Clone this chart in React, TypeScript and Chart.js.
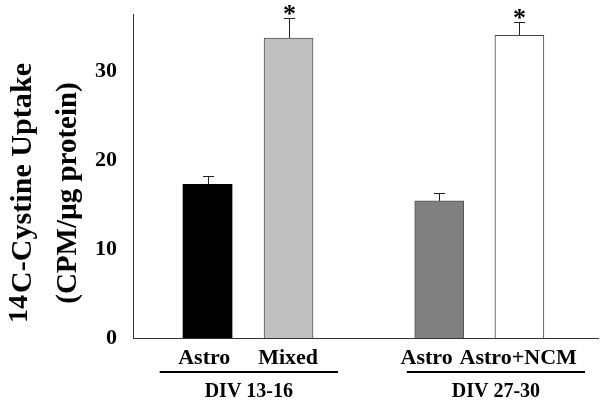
import React, { useEffect, useRef } from 'react';
import { Chart, registerables } from 'chart.js';
Chart.register(...registerables);

const categories = ['Astro', 'Mixed', 'Astro', 'Astro+NCM'];
const groups = ['DIV 13-16', 'DIV 27-30'];
const uptake = [17.3, 33.8, 15.45, 34.1];
const sem = [1.0, 2.3, 0.9, 1.5];
const significant = [false, true, false, true];
const yTicks = [0, 10, 20, 30];
const barColors = ['#000000', '#c0c0c0', '#808080', '#ffffff'];

// layout (bar slot centers and label centers in x-axis units, group underline spans)
const slotPos = [0.92, 1.92, 3.78, 4.77];
const labelPos = [0.88, 1.915, 3.625, 4.755];
const groupSpans = [[0.33, 2.53], [3.38, 5.58]];
const FONT = '"Liberation Serif", "Times New Roman", serif';

const overlay = {
  id: 'overlay',
  afterDatasetsDraw(chart: any) {
    const ctx = chart.ctx;
    const meta = chart.getDatasetMeta(0);
    const ys = chart.scales.y;
    ctx.save();
    meta.data.forEach((bar: any, i: number) => {
      const x = Math.round(bar.x);
      const yTop = ys.getPixelForValue(uptake[i]);
      const yErr = Math.round(ys.getPixelForValue(uptake[i] + sem[i]));
      ctx.strokeStyle = '#222';
      ctx.lineWidth = 1;
      ctx.beginPath();
      ctx.moveTo(x + 0.5, yTop);
      ctx.lineTo(x + 0.5, yErr);
      ctx.moveTo(x - 5, yErr + 0.5);
      ctx.lineTo(x + 6, yErr + 0.5);
      ctx.stroke();
      if (significant[i]) {
        ctx.fillStyle = '#000';
        ctx.font = `bold 26px ${FONT}`;
        ctx.textAlign = 'center';
        ctx.textBaseline = 'middle';
        ctx.fillText('*', x + 0.5, yErr - 3);
      }
    });
    ctx.restore();
  },
  afterDraw(chart: any) {
    const ctx = chart.ctx;
    const xs = chart.scales.x;
    ctx.save();
    // group underlines and labels
    groupSpans.forEach((span, g) => {
      const x0 = xs.getPixelForValue(span[0]);
      const x1 = xs.getPixelForValue(span[1]);
      ctx.strokeStyle = '#000';
      ctx.lineWidth = 2;
      ctx.beginPath();
      ctx.moveTo(x0, 372);
      ctx.lineTo(x1, 372);
      ctx.stroke();
      ctx.fillStyle = '#000';
      ctx.font = `bold 20px ${FONT}`;
      ctx.textAlign = 'center';
      ctx.textBaseline = 'middle';
      ctx.fillText(groups[g], (x0 + x1) / 2, 392);
    });
    // y title
    ctx.save();
    ctx.translate(0, 193);
    ctx.rotate(-Math.PI / 2);
    ctx.fillStyle = '#000';
    ctx.textBaseline = 'alphabetic';
    ctx.textAlign = 'left';
    const supFont = `bold 28px ${FONT}`;
    const mainFont = `bold 30px ${FONT}`;
    const mainText = 'C-Cystine Uptake';
    ctx.font = supFont;
    const wSup = ctx.measureText('14').width + 2;
    ctx.font = mainFont;
    const wRaw = ctx.measureText(mainText).width;
    const spacing = Math.max(0, Math.min(2, (230 - wRaw) / mainText.length));
    (ctx as any).letterSpacing = `${spacing}px`;
    const wMain = ctx.measureText(mainText).width;
    const total = wSup + wMain;
    (ctx as any).letterSpacing = '0px';
    ctx.font = supFont;
    ctx.fillText('14', -total / 2, 27);
    ctx.font = mainFont;
    (ctx as any).letterSpacing = `${spacing}px`;
    ctx.fillText(mainText, -total / 2 + wSup, 31);
    (ctx as any).letterSpacing = '0px';
    ctx.font = `bold 29px ${FONT}`;
    ctx.textAlign = 'center';
    ctx.fillText('(CPM/\u00B5g protein)', 0, 76);
    ctx.restore();
    ctx.restore();
  },
};

export default function App() {
  const ref = useRef<HTMLCanvasElement>(null);
  useEffect(() => {
    const chart = new Chart(ref.current!, {
      type: 'bar',
      data: {
        datasets: [
          {
            data: slotPos.map((p, i) => ({ x: p, y: uptake[i] })),
            backgroundColor: barColors,
            borderColor: ['#000', '#555', '#555', '#444'],
            borderWidth: [0, 1, 1, 1],
            borderSkipped: 'bottom',
            barThickness: 49,
          } as any,
        ],
      },
      options: {
        responsive: false,
        animation: false,
        layout: { autoPadding: false, padding: { top: 14, right: 4, left: 0, bottom: 0 } },
        plugins: { legend: { display: false }, tooltip: { enabled: false } },
        scales: {
          x: {
            type: 'linear',
            offset: false,
            min: 0,
            max: 5.74,
            grid: { display: false, drawTicks: false },
            border: { display: true, color: '#333', width: 1 },
            afterBuildTicks: (s: any) => {
              s.ticks = labelPos.map((v) => ({ value: v }));
            },
            afterFit: (s: any) => {
              s.height = 66;
              s.paddingLeft = 0;
              s.paddingRight = 0;
            },
            ticks: {
              autoSkip: false,
              maxRotation: 0,
              padding: 7,
              color: '#000',
              font: { family: FONT, size: 22, weight: 'bold' },
              callback: (_v: any, i: number) => categories[i],
            },
          },
          y: {
            min: 0,
            max: 36.5,
            grid: { display: false, drawTicks: false },
            border: { display: true, color: '#333', width: 1 },
            afterBuildTicks: (s: any) => {
              s.ticks = yTicks.map((v) => ({ value: v }));
            },
            afterFit: (s: any) => {
              s.width = 133;
              s.paddingTop = 0;
              s.paddingBottom = 0;
            },
            ticks: {
              padding: 16,
              color: '#000',
              font: { family: FONT, size: 22, weight: 'bold' },
            },
          },
        },
      },
      plugins: [overlay],
    } as any);
    return () => chart.destroy();
  }, []);
  return (
    <div style={{ position: 'fixed', left: 0, top: 0, width: 602, height: 404, background: '#fff' }}>
      <canvas ref={ref} width={602} height={404} style={{ display: 'block' }} />
    </div>
  );
}
